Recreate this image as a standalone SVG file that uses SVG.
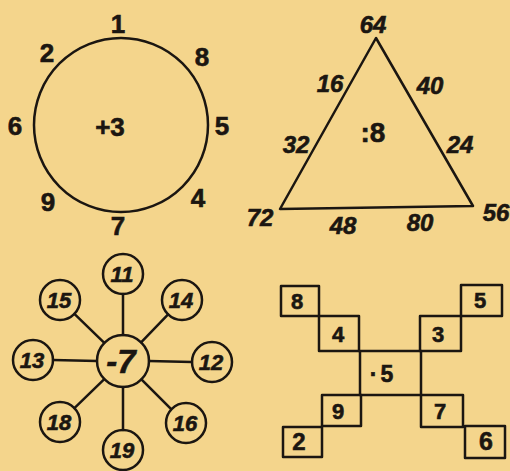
<svg xmlns="http://www.w3.org/2000/svg" width="510" height="471" viewBox="0 0 510 471">
<style>
.ink{fill:none;stroke:#1b1611;stroke-width:2.5;stroke-linejoin:round;stroke-linecap:round}
.t{font-family:"Liberation Sans","DejaVu Sans",sans-serif;font-weight:bold;fill:#1b1611;stroke:#1b1611;stroke-width:0.6;text-anchor:middle}
.c{font-size:26px}
.tr{font-size:24px;font-style:italic}
.s{font-size:22px;font-style:italic}
.b{font-size:22px}
</style>
<rect width="510" height="471" fill="#f4d58c"/>

<g id="circle-puzzle">
  <circle class="ink" cx="121" cy="125" r="87"/>
  <text class="t c" x="110" y="136">+3</text>
  <text class="t c" x="118" y="33">1</text>
  <text class="t c" x="47" y="62">2</text>
  <text class="t c" x="202" y="66">8</text>
  <text class="t c" x="15" y="135">6</text>
  <text class="t c" x="222" y="135">5</text>
  <text class="t c" x="48" y="211">9</text>
  <text class="t c" x="198" y="207">4</text>
  <text class="t c" x="118" y="235">7</text>
</g>

<g id="triangle-puzzle">
  <polygon class="ink" points="376,38 280,209 473,206"/>
  <text class="t" x="373" y="142" style="font-size:28px">:8</text>
  <text class="t tr" x="373" y="33">64</text>
  <text class="t tr" x="330" y="92">16</text>
  <text class="t tr" x="430" y="94">40</text>
  <text class="t tr" x="296" y="153">32</text>
  <text class="t tr" x="460" y="153">24</text>
  <text class="t tr" x="260" y="226">72</text>
  <text class="t tr" x="343" y="234">48</text>
  <text class="t tr" x="420" y="231">80</text>
  <text class="t tr" x="496" y="221">56</text>
</g>

<g id="star-connectors">
  <line class="ink" x1="123" y1="335" x2="123" y2="294"/>
  <line class="ink" x1="123" y1="387" x2="123" y2="430"/>
  <line class="ink" x1="97" y1="361" x2="53" y2="360"/>
  <line class="ink" x1="149" y1="361" x2="192" y2="362"/>
  <line class="ink" x1="104.3" y1="342.9" x2="74.4" y2="313.9"/>
  <line class="ink" x1="141.1" y1="342.3" x2="168.1" y2="314.4"/>
  <line class="ink" x1="104.3" y1="379.1" x2="74.4" y2="408.1"/>
  <line class="ink" x1="141.4" y1="379.4" x2="170.9" y2="408.9"/>
</g>
<g id="star-center">
  <circle class="ink" cx="123" cy="361" r="26"/>
  <text class="t" x="121" y="373" style="font-size:33px;font-style:italic">-7</text>
</g>
<g id="star-11"><circle class="ink" cx="123" cy="274" r="20"/><text class="t s" x="122" y="282">11</text></g>
<g id="star-15"><circle class="ink" cx="60" cy="300" r="20"/><text class="t s" x="59" y="308">15</text></g>
<g id="star-14"><circle class="ink" cx="182" cy="300" r="20"/><text class="t s" x="181" y="308">14</text></g>
<g id="star-13"><circle class="ink" cx="33" cy="360" r="20"/><text class="t s" x="32" y="368">13</text></g>
<g id="star-12"><circle class="ink" cx="212" cy="362" r="20"/><text class="t s" x="211" y="370">12</text></g>
<g id="star-18"><circle class="ink" cx="60" cy="422" r="20"/><text class="t s" x="59" y="430">18</text></g>
<g id="star-16"><circle class="ink" cx="186" cy="423" r="20"/><text class="t s" x="185" y="431">16</text></g>
<g id="star-19"><circle class="ink" cx="123" cy="450" r="20"/><text class="t s" x="122" y="458">19</text></g>

<g id="squares-puzzle">
  <g id="sq-center">
    <path class="ink" d="M359,351 H420 M360,351 V395 M421,351 V395 M361,395 H421"/>
    <text class="t" x="383" y="382" style="font-size:23px;letter-spacing:3px">·5</text>
  </g>
  <g id="sq-8"><rect class="ink" x="281" y="286" width="38" height="30"/><text class="t b" x="297" y="309">8</text></g>
  <g id="sq-4"><rect class="ink" x="319" y="316" width="40" height="35"/><text class="t b" x="338" y="342">4</text></g>
  <g id="sq-3"><rect class="ink" x="420" y="316" width="41" height="35"/><text class="t b" x="438" y="342">3</text></g>
  <g id="sq-5"><rect class="ink" x="461" y="285" width="41" height="31"/><text class="t b" x="480" y="308">5</text></g>
  <g id="sq-9"><rect class="ink" x="322" y="395" width="39" height="31"/><text class="t b" x="338" y="419">9</text></g>
  <g id="sq-7"><rect class="ink" x="421" y="395" width="42" height="32"/><text class="t b" x="440" y="419">7</text></g>
  <g id="sq-2"><rect class="ink" x="283" y="427" width="39" height="30"/><text class="t" x="299" y="450" style="font-size:24px">2</text></g>
  <g id="sq-6"><rect class="ink" x="465" y="426" width="40" height="32"/><text class="t" x="486" y="450" style="font-size:25px">6</text></g>
</g>
</svg>
